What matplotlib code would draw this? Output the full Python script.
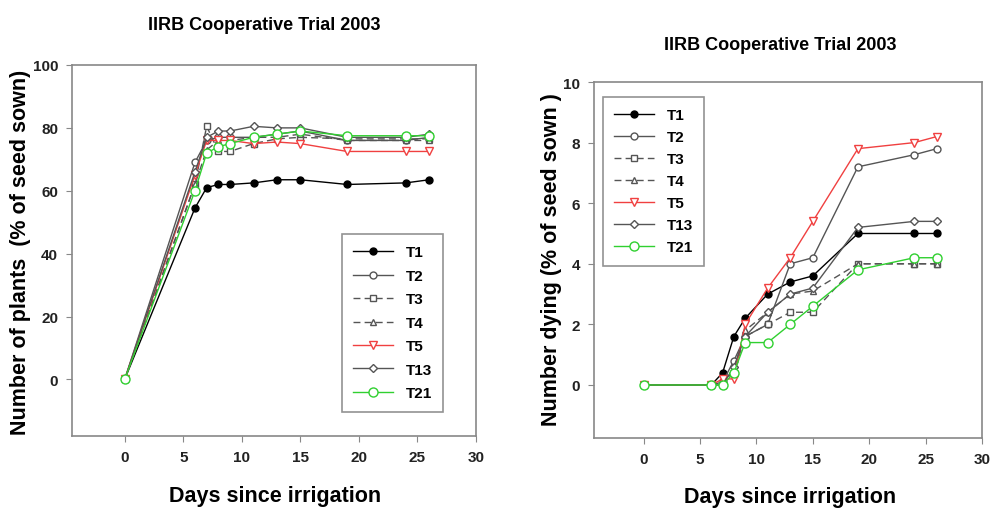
import matplotlib
matplotlib.use("Agg")
import matplotlib.pyplot as plt

plt.rcParams['font.family'] = ['Liberation Sans', 'DejaVu Sans']

days = [0, 6, 7, 8, 9, 11, 13, 15, 19, 24, 26]
series_names = ["T1", "T2", "T3", "T4", "T5", "T13", "T21"]

plants = {
    "T1":  [0, 54.5, 61, 62, 62, 62.5, 63.5, 63.5, 62, 62.5, 63.5],
    "T2":  [0, 69, 76, 77, 77, 77, 78, 79, 76, 76, 77],
    "T3":  [0, 62, 80.5, 72.5, 72.5, 75, 76.5, 77, 76.5, 76.5, 76.5],
    "T4":  [0, 62, 73, 76, 76, 77, 77, 78, 76, 76, 76],
    "T5":  [0, 65, 76, 76, 76, 75, 75.5, 75, 72.5, 72.5, 72.5],
    "T13": [0, 66, 77, 79, 79, 80.5, 80, 80, 77, 77, 78],
    "T21": [0, 60, 72, 74, 75, 77, 78, 79, 77.5, 77.5, 77.5],
}

dying = {
    "T1":  [0, 0, 0.4, 1.6, 2.2, 3.0, 3.4, 3.6, 5.0, 5.0, 5.0],
    "T2":  [0, 0, 0.1, 0.8, 1.6, 2.0, 4.0, 4.2, 7.2, 7.6, 7.8],
    "T3":  [0, 0, 0.1, 0.4, 1.6, 2.0, 2.4, 2.4, 4.0, 4.0, 4.0],
    "T4":  [0, 0, 0.0, 0.5, 1.8, 2.4, 3.0, 3.1, 4.0, 4.0, 4.0],
    "T5":  [0, 0, 0.2, 0.2, 2.0, 3.2, 4.2, 5.4, 7.8, 8.0, 8.2],
    "T13": [0, 0, 0.0, 0.6, 1.6, 2.4, 3.0, 3.2, 5.2, 5.4, 5.4],
    "T21": [0, 0, 0.0, 0.4, 1.4, 1.4, 2.0, 2.6, 3.8, 4.2, 4.2],
}

styles = {
    "T1":  dict(color="black", marker="o", ls="-", mfc="black", mec="black", ms=5),
    "T2":  dict(color="#555555", marker="o", ls="-", mfc="white", mec="#555555", ms=5),
    "T3":  dict(color="#555555", marker="s", ls=(0, (5, 3)), mfc="white", mec="#555555", ms=5),
    "T4":  dict(color="#555555", marker="^", ls=(0, (5, 3)), mfc="white", mec="#555555", ms=5),
    "T5":  dict(color="#f04040", marker="v", ls="-", mfc="white", mec="#f04040", ms=6),
    "T13": dict(color="#555555", marker="D", ls="-", mfc="white", mec="#555555", ms=4.5),
    "T21": dict(color="#30d030", marker="o", ls="-", mfc="white", mec="#30d030", ms=6.5),
}

fig = plt.figure(figsize=(9.92, 5.10), dpi=100)
W, H = 992, 510

def axes_px(l, t, r, b):
    return fig.add_axes([l / W, 1 - b / H, (r - l) / W, (b - t) / H])

box1 = (72, 66, 476, 437)
box2 = (594, 83, 982, 439)
ax1 = axes_px(*box1)
ax2 = axes_px(*box2)

def style_axes(ax):
    for s in ax.spines.values():
        s.set_color("#888888")
        s.set_linewidth(1.2)
    ax.tick_params(axis="both", direction="out", length=4, color="#888888",
                   labelsize=11, pad=6)
    for lab in ax.get_xticklabels() + ax.get_yticklabels():
        lab.set_fontweight("bold")
        lab.set_color("#222222")

for name in series_names:
    ax1.plot(days, plants[name], lw=1.0, label=name, markeredgewidth=1.0, **styles[name])
    ax2.plot(days, dying[name], lw=1.0, label=name, markeredgewidth=1.0, **styles[name])

ax1.set_xlim(-4.5, 30)
ax1.set_ylim(-18, 100)
ax1.set_xticks([0, 5, 10, 15, 20, 25, 30])
ax1.set_yticks([0, 20, 40, 60, 80, 100])
ax2.set_xlim(-4.4, 30)
ax2.set_ylim(-1.75, 10)
ax2.set_xticks([0, 5, 10, 15, 20, 25, 30])
ax2.set_yticks([0, 2, 4, 6, 8, 10])

style_axes(ax1)
style_axes(ax2)

def px_coords(box, x, y):
    l, t, r, b = box
    return (x - l) / (r - l), 1 - (y - t) / (b - t)

ax1.set_xlabel("Days since irrigation", fontsize=15.5, fontweight="bold")
ax1.xaxis.set_label_coords(*px_coords(box1, 275, 497))
ax1.xaxis.label.set_va("center")
ax1.set_ylabel("Number of plants  (% of seed sown)", fontsize=15.5, fontweight="bold")
ax1.yaxis.set_label_coords(*px_coords(box1, 21, 252))
ax1.yaxis.label.set_va("center")
ax2.set_xlabel("Days since irrigation", fontsize=15.5, fontweight="bold")
ax2.xaxis.set_label_coords(*px_coords(box2, 790, 497))
ax2.xaxis.label.set_va("center")
ax2.set_ylabel("Number dying (% of seed sown )", fontsize=15.5, fontweight="bold")
ax2.yaxis.set_label_coords(*px_coords(box2, 551, 260))
ax2.yaxis.label.set_va("center")

fig.text(264 / W, 1 - 25 / H, "IIRB Cooperative Trial 2003", ha="center", va="center",
         fontsize=13, fontweight="bold")
fig.text(780 / W, 1 - 45 / H, "IIRB Cooperative Trial 2003", ha="center", va="center",
         fontsize=13, fontweight="bold")

def make_legend(ax, box, lx, ty, spacing):
    leg = ax.legend(loc="upper left", bbox_to_anchor=px_coords(box, lx, ty),
                    frameon=True, fancybox=False, handlelength=2.6, handletextpad=0.8,
                    labelspacing=spacing, borderpad=0.75, borderaxespad=0,
                    prop=dict(weight="bold", size=11))
    leg.get_frame().set_edgecolor("#777777")
    leg.get_frame().set_linewidth(1.2)
    return leg

make_legend(ax1, box1, 342, 235, 0.62)
make_legend(ax2, box2, 603, 98, 0.52)

fig.savefig("out.png", dpi=100)
